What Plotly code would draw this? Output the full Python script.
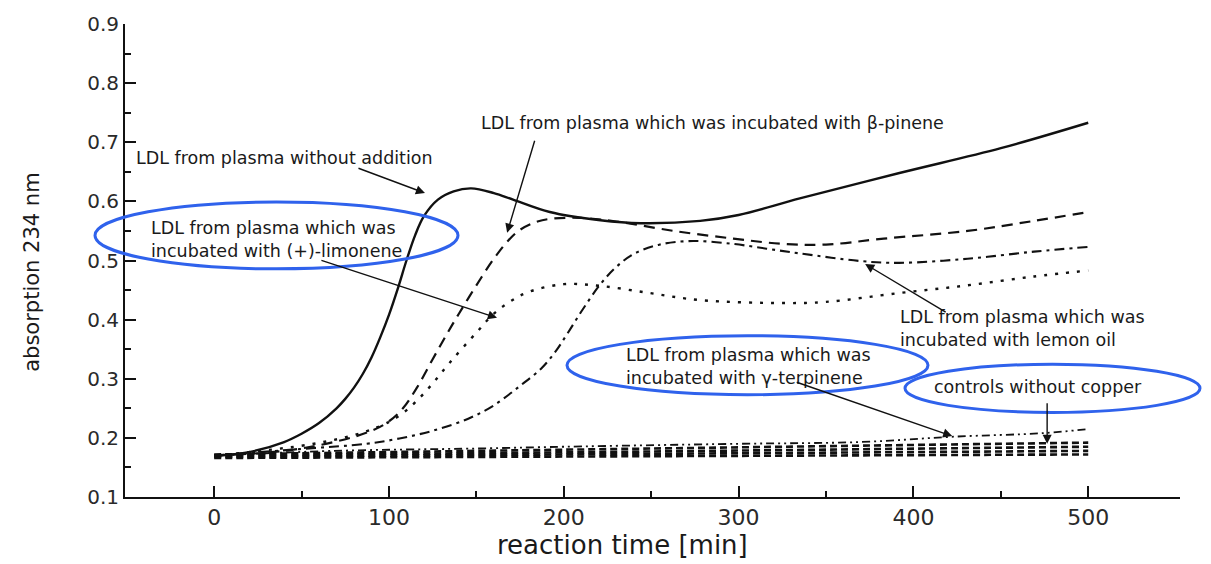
import plotly.graph_objects as go

# ---- data ----
t_none = [0, 20, 40, 50, 60, 70, 75, 80, 85, 90, 95, 100, 105, 110, 115, 120, 128, 137, 147, 160, 171, 192, 221,
          244, 278, 300, 335, 392, 450, 500]
y_none = [0.170, 0.176, 0.193, 0.207, 0.225, 0.250, 0.266, 0.285, 0.308, 0.336, 0.370, 0.408, 0.452, 0.500,
          0.543, 0.575, 0.603, 0.617, 0.622, 0.614, 0.603, 0.582, 0.568, 0.563, 0.567, 0.577, 0.605, 0.648,
          0.690, 0.733]

t_pinene = [0, 40, 70, 90, 100, 108, 116, 125, 133, 140, 150, 160, 168, 175, 185, 194, 210, 230, 263, 297, 326,
            350, 383, 431, 469, 500]
y_pinene = [0.170, 0.178, 0.194, 0.212, 0.228, 0.250, 0.285, 0.333, 0.375, 0.410, 0.458, 0.503, 0.533, 0.552,
            0.566, 0.571, 0.572, 0.566, 0.550, 0.537, 0.528, 0.527, 0.537, 0.550, 0.567, 0.582]

t_limonene = [0, 55, 85, 100, 108, 116, 125, 135, 150, 160, 170, 180, 200, 221, 249, 278, 326, 350, 392, 431,
              469, 500]
y_limonene = [0.170, 0.189, 0.209, 0.227, 0.242, 0.263, 0.292, 0.328, 0.378, 0.410, 0.432, 0.447, 0.460, 0.457,
              0.445, 0.433, 0.428, 0.430, 0.445, 0.458, 0.473, 0.483]

t_lemon = [0, 49, 87, 106, 125, 145, 160, 175, 187, 195, 202, 211, 221, 230, 240, 255, 274, 297, 316, 335, 370,
           392, 431, 469, 500]
y_lemon = [0.170, 0.181, 0.190, 0.199, 0.212, 0.232, 0.255, 0.288, 0.317, 0.345, 0.376, 0.418, 0.460, 0.489,
           0.511, 0.527, 0.533, 0.528, 0.520, 0.512, 0.499, 0.496, 0.503, 0.515, 0.523]

t_terp = [0, 68, 150, 200, 300, 370, 423, 474, 500]
y_terp = [0.170, 0.178, 0.182, 0.185, 0.190, 0.193, 0.202, 0.208, 0.215]

t_ctrl = [0, 250, 500]
y_ctrl_1 = [0.172, 0.182, 0.192]
y_ctrl_2 = [0.170, 0.177, 0.185]
y_ctrl_3 = [0.168, 0.173, 0.178]
y_ctrl_4 = [0.166, 0.169, 0.172]

y_ticks = [0.1, 0.2, 0.3, 0.4, 0.5, 0.6, 0.7, 0.8, 0.9]
x_ticks = [0, 100, 200, 300, 400, 500]

INK = "#111111"
BLUE = "#2f62ec"
FONT = "DejaVu Sans, Liberation Sans, Arial, sans-serif"

fig = go.Figure()


def add_line(x, y, dash, width=2.0):
    fig.add_trace(go.Scatter(x=x, y=y, mode="lines",
                             line=dict(color=INK, width=width, dash=dash, shape="spline", smoothing=1.0),
                             showlegend=False, hoverinfo="skip"))


for yc in (y_ctrl_1, y_ctrl_2, y_ctrl_3, y_ctrl_4):
    add_line(t_ctrl, yc, "7px,4px", 2.6)
add_line(t_terp, y_terp, "8px,4px,2px,4px,2px,4px", 1.8)
add_line(t_lemon, y_lemon, "10px,5px,3px,5px", 2.1)
add_line(t_limonene, y_limonene, "3px,8px", 2.4)
add_line(t_pinene, y_pinene, "11px,7px", 2.2)
add_line(t_none, y_none, "solid", 2.4)

# ---- text labels ----
def ptext(px, py, text, size=17.5):
    fig.add_annotation(xref="paper", yref="paper", x=(px - 125) / 1055, y=(497 - py) / 481, text=text,
                       showarrow=False, xanchor="left", yanchor="middle", align="left",
                       font=dict(family=FONT, size=size, color="#1a1a1a"))


ptext(134, 152, "LDL from plasma without addition")
ptext(479, 117, "LDL from plasma which was incubated with \u03b2-pinene")
ptext(149, 235, "LDL from plasma which was<br>incubated with (+)-limonene")
ptext(898, 326, "LDL from plasma which was<br>incubated with lemon oil")
ptext(624, 364, "LDL from plasma which was<br>incubated with \u03b3-terpinene")
ptext(932, 385, "controls without copper")

# ---- arrows (tail -> head, data coordinates) ----
arrows = [
    ((81.7, 0.657), (120.6, 0.614)),
    ((183.6, 0.705), (167.6, 0.547)),
    ((60.5, 0.501), (161.8, 0.403)),
    ((419.3, 0.411), (372.4, 0.494)),
    ((332.4, 0.295), (422.2, 0.203)),
    ((476.5, 0.261), (476.5, 0.190)),
]
for (tx, ty), (hx, hy) in arrows:
    fig.add_annotation(xref="x", yref="y", axref="x", ayref="y", x=hx, y=hy, ax=tx, ay=ty, text="",
                       showarrow=True, arrowhead=2, arrowsize=1.3, arrowwidth=1.4, arrowcolor=INK)

# ---- blue ellipses ----
def ellipse(x0, x1, y0, y1):
    fig.add_shape(type="circle", xref="paper", yref="paper",
                  x0=(x0 - 125) / 1055, x1=(x1 - 125) / 1055, y0=(497 - y1) / 481, y1=(497 - y0) / 481,
                  line=dict(color=BLUE, width=3), fillcolor="rgba(0,0,0,0)", layer="above")


ellipse(95, 458, 197, 265)
ellipse(567, 928, 333, 393)
ellipse(905, 1200, 362, 411)

# ---- axis titles ----
fig.add_annotation(xref="paper", yref="paper", x=(32 - 125) / 1055, y=(497 - 269) / 481,
                   text="absorption 234 nm", textangle=-90, showarrow=False,
                   xanchor="center", yanchor="middle", font=dict(family=FONT, size=21, color="#1a1a1a"))
fig.add_annotation(xref="paper", yref="paper", x=(622 - 125) / 1055, y=(497 - 546) / 481,
                   text="reaction time [min]", showarrow=False,
                   xanchor="center", yanchor="middle", font=dict(family=FONT, size=26, color="#1a1a1a"))

fig.update_layout(
    width=1211, height=564, autosize=False,
    margin=dict(l=125, r=31, t=16, b=67),
    paper_bgcolor="white", plot_bgcolor="white",
    showlegend=False,
)
fig.update_xaxes(range=[-51, 552.5], tickvals=x_ticks, ticks="inside", ticklen=11, tickwidth=2,
                 tickcolor=INK, showline=True, linecolor=INK, linewidth=2, showgrid=False, zeroline=False,
                 tickfont=dict(family=FONT, size=22, color="#2a2a2a"),
                 minor=dict(tickvals=[50, 150, 250, 350, 450], ticks="inside", ticklen=6, tickwidth=2,
                            tickcolor=INK, showgrid=False))
fig.update_yaxes(range=[0.1, 0.9], tickvals=y_ticks, tickformat=".1f", ticks="inside", ticklen=11, tickwidth=2,
                 tickcolor=INK, showline=True, linecolor=INK, linewidth=2, showgrid=False, zeroline=False,
                 tickfont=dict(family=FONT, size=20, color="#2a2a2a"),
                 minor=dict(tickvals=[0.15, 0.25, 0.35, 0.45, 0.55, 0.65, 0.75, 0.85], ticks="inside",
                            ticklen=6, tickwidth=2, tickcolor=INK, showgrid=False))

fig.write_html("out.html", config={"displayModeBar": False},
               post_script="document.body.style.margin='0';")
